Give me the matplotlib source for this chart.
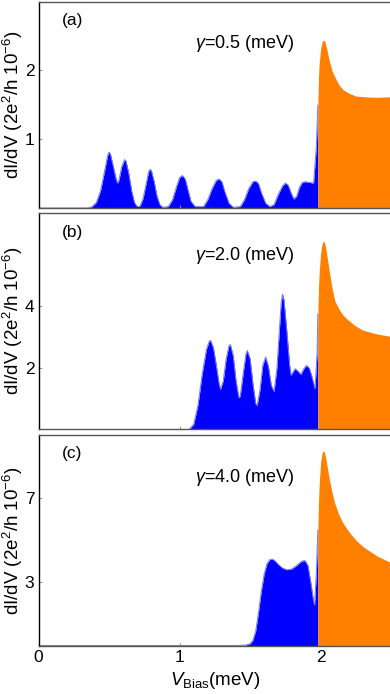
import matplotlib
matplotlib.use("Agg")
import matplotlib.pyplot as plt

# ---------------- data ----------------
# Panel (a): gamma = 0.5 meV
a_blue_x = [0.00, 0.35, 0.38, 0.41, 0.44, 0.47, 0.49, 0.50, 0.51, 0.53, 0.55, 0.56, 0.57,
            0.59, 0.61, 0.62, 0.64, 0.66, 0.68, 0.70, 0.72, 0.74, 0.76, 0.78, 0.79,
            0.80, 0.82, 0.84, 0.86, 0.88, 0.92, 0.95, 0.98, 1.00, 1.02, 1.04, 1.06,
            1.08, 1.11, 1.17, 1.20, 1.23, 1.26, 1.28, 1.30, 1.32, 1.35, 1.38, 1.43,
            1.46, 1.49, 1.52, 1.54, 1.56, 1.58, 1.61, 1.64, 1.67, 1.70, 1.73, 1.75,
            1.77, 1.79, 1.81, 1.83, 1.85, 1.87, 1.89, 1.92, 1.95, 1.97, 1.98]
a_blue_y = [0.00, 0.00, 0.02, 0.08, 0.25, 0.55, 0.76, 0.81, 0.78, 0.60, 0.42, 0.36, 0.40,
            0.60, 0.70, 0.68, 0.50, 0.25, 0.08, 0.02, 0.03, 0.13, 0.32, 0.52, 0.56,
            0.54, 0.38, 0.17, 0.05, 0.01, 0.02, 0.12, 0.32, 0.44, 0.47, 0.42, 0.26,
            0.10, 0.02, 0.02, 0.12, 0.28, 0.40, 0.42, 0.38, 0.24, 0.07, 0.01, 0.02,
            0.12, 0.28, 0.38, 0.39, 0.35, 0.22, 0.07, 0.02, 0.05, 0.20, 0.32, 0.36,
            0.33, 0.22, 0.13, 0.17, 0.30, 0.37, 0.38, 0.37, 0.36, 0.90, 1.49]
a_orange_x = [1.98, 1.985, 1.99, 2.00, 2.01, 2.02, 2.03, 2.04, 2.06, 2.08, 2.10, 2.13, 2.16,
              2.20, 2.25, 2.30, 2.40, 2.50]
a_orange_y = [1.49, 1.90, 2.10, 2.30, 2.40, 2.43, 2.41, 2.33, 2.14, 1.99, 1.90, 1.78, 1.71,
              1.66, 1.62, 1.61, 1.60, 1.61]

# Panel (b): gamma = 2.0 meV
b_blue_x = [0.00, 1.03, 1.07, 1.10, 1.13, 1.16, 1.19, 1.21, 1.22, 1.24, 1.26, 1.28, 1.29,
            1.31, 1.33, 1.35, 1.36, 1.38, 1.40, 1.42, 1.43, 1.45, 1.47, 1.48, 1.50,
            1.52, 1.54, 1.55, 1.57, 1.59, 1.61, 1.63, 1.65, 1.67, 1.69, 1.71, 1.72,
            1.73, 1.74, 1.76, 1.78, 1.79, 1.81, 1.82, 1.84, 1.86, 1.88, 1.90, 1.92,
            1.94, 1.96, 1.975, 1.98]
b_blue_y = [0.00, 0.00, 0.04, 0.20, 0.80, 1.80, 2.60, 2.87, 2.89, 2.65, 2.10, 1.50, 1.32,
            1.60, 2.30, 2.72, 2.76, 2.40, 1.60, 1.05, 1.10, 1.80, 2.45, 2.57, 2.30,
            1.50, 0.85, 0.80, 1.30, 2.10, 2.36, 2.05, 1.45, 1.25, 2.00, 3.40, 4.10,
            4.38, 4.20, 3.20, 2.10, 1.77, 1.92, 1.98, 1.90, 1.80, 1.98, 2.09, 2.00,
            1.70, 1.34, 2.50, 3.74]
b_orange_x = [1.98, 1.985, 1.99, 2.00, 2.01, 2.02, 2.03, 2.04, 2.06, 2.08, 2.10, 2.13, 2.16,
              2.20, 2.25, 2.30, 2.40, 2.50]
b_orange_y = [3.74, 4.60, 5.10, 5.70, 6.00, 6.10, 6.00, 5.75, 5.15, 4.60, 4.17, 3.90, 3.70,
              3.53, 3.35, 3.22, 3.10, 3.02]

# Panel (c): gamma = 4.0 meV
c_blue_x = [0.00, 1.40, 1.47, 1.50, 1.52, 1.54, 1.56, 1.58, 1.60, 1.62, 1.64, 1.66, 1.68,
            1.70, 1.73, 1.76, 1.79, 1.82, 1.85, 1.87, 1.89, 1.91, 1.93, 1.95, 1.957,
            1.97, 1.98]
c_blue_y = [0.00, 0.00, 0.02, 0.08, 0.25, 0.70, 1.60, 2.60, 3.40, 3.90, 4.08, 4.10, 4.00,
            3.85, 3.68, 3.60, 3.62, 3.75, 3.92, 4.02, 4.03, 3.80, 3.00, 2.10, 1.92,
            3.50, 5.49]
c_orange_x = [1.98, 1.985, 1.99, 2.00, 2.01, 2.02, 2.03, 2.04, 2.06, 2.08, 2.10, 2.13, 2.16,
              2.20, 2.25, 2.30, 2.40, 2.50]
c_orange_y = [5.49, 6.80, 7.70, 8.70, 9.15, 9.27, 9.10, 8.75, 7.95, 7.30, 6.76, 6.20, 5.80,
              5.41, 5.00, 4.70, 4.25, 3.93]

panel_labels = ["(a)", "(b)", "(c)"]
gamma_labels = ["0.5", "2.0", "4.0"]
yticks = [[1, 2], [2, 4], [3, 7]]
ylims = [(0, 2.98), (0.06, 7.0), (0, 10.0)]
xticks = [0, 1, 2]

BLUE = "#0000FF"
ORANGE = "#FF8000"

# ---------------- figure ----------------
plt.rcParams['font.family'] = ['Liberation Sans', 'DejaVu Sans']
plt.rcParams['mathtext.fontset'] = 'custom'
plt.rcParams['mathtext.rm'] = 'Liberation Sans'
plt.rcParams['mathtext.it'] = 'Liberation Sans:italic'

fig = plt.figure(figsize=(3.90, 6.94), dpi=100)
left = 38.5 / 390
width = 1.0 - left + 0.003
H = 694.0
boxes = [(2, 208), (212.7, 428.5), (435, 645.5)]

data = [(a_blue_x, a_blue_y, a_orange_x, a_orange_y),
        (b_blue_x, b_blue_y, b_orange_x, b_orange_y),
        (c_blue_x, c_blue_y, c_orange_x, c_orange_y)]

axes = []
for i, (top, bot) in enumerate(boxes):
    ax = fig.add_axes([left, 1 - bot / H, width, (bot - top) / H])
    axes.append(ax)
    bx, by, ox, oy = data[i]
    ax.fill_between(bx, 0, by, color=BLUE, linewidth=0)
    ax.plot(bx, by, color="#7777ff", lw=0.7)
    ax.fill_between(ox, 0, oy, color=ORANGE, linewidth=0)
    ax.set_xlim(0, 2.5)
    ax.set_ylim(*ylims[i])
    ax.set_yticks(yticks[i])
    ax.set_xticks(xticks)
    ax.tick_params(direction='in', length=2, width=0.8, color='#999999',
                   labelsize=12.5, pad=3)
    ax.spines['left'].set_color('black')
    ax.spines['bottom'].set_color('#555555')
    ax.spines['top'].set_color('#555555')
    ax.spines['right'].set_visible(False)
    for s in ax.spines.values():
        s.set_linewidth(1.0)
    if i < 2:
        ax.tick_params(labelbottom=False)
    ax.text(0.067, 0.91, panel_labels[i], transform=ax.transAxes,
            fontsize=12.5, va='center', ha='left')
    ax.text(0.445, 0.80, r'$\gamma$=' + gamma_labels[i] + ' (meV)', transform=ax.transAxes,
            fontsize=13, va='center', ha='left')
    ax.set_ylabel(r'dI/dV (2e$^2$/h 10$^{-6}$)', fontsize=13.5, va='center')
    ax.yaxis.set_label_coords(-0.072, 0.5)

axes[2].set_xlabel(r'$V_{\mathrm{Bias}}$(meV)', fontsize=13.5, labelpad=4)

fig.savefig("out.png", dpi=100)
